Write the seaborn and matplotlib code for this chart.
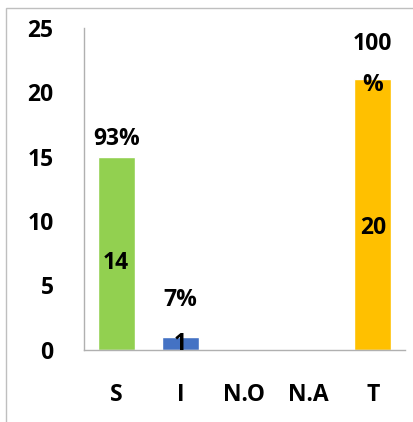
import matplotlib
matplotlib.use('Agg')
import matplotlib.pyplot as plt
import seaborn as sns
import pandas as pd
from matplotlib.patches import Rectangle

sns.set_style('white')
plt.rcParams['font.family'] = ['Open Sans', 'DejaVu Sans']
plt.rcParams['text.color'] = 'black'
plt.rcParams['xtick.color'] = 'black'
plt.rcParams['ytick.color'] = 'black'

# data
categories = ['S', 'I', 'N.O', 'N.A', 'T']
heights = [15, 1, 0, 0, 21]
count_labels = ['14', '1', '', '', '20']
pct_labels = ['93%', '7%', '', '', '100\n%']
colors = ['#92D050', '#4472C4', '#FFFFFF', '#FFFFFF', '#FFC000']

df = pd.DataFrame({'cat': categories, 'val': heights})

fig = plt.figure(figsize=(4.14, 4.22), dpi=100)
ax = fig.add_axes([0.203, 0.171, 0.775, 0.763])

sns.barplot(data=df, x='cat', y='val', hue='cat', palette=colors,
            legend=False, width=0.58, saturation=1, ax=ax)

fs = 16.5
ax.set_ylim(0, 25)
ax.set_yticks(range(0, 26, 5))
ax.set_xlabel('')
ax.set_ylabel('')
for lab in ax.get_xticklabels() + ax.get_yticklabels():
    lab.set_fontweight('bold')
    lab.set_fontsize(fs)
ax.tick_params(axis='y', length=0, pad=22)
ax.tick_params(axis='x', length=0, pad=24)

sns.despine(ax=ax, top=True, right=True)
for s in ['left', 'bottom']:
    ax.spines[s].set_color('#B0B0B0')
    ax.spines[s].set_linewidth(1)

# count labels inside the bars
for i, (h, t) in enumerate(zip(heights, count_labels)):
    if t:
        ax.text(i, h * 0.45, t, ha='center', va='center',
                fontsize=fs, fontweight='bold')

# percent labels above the bars (offsets in points)
pct_offsets = [4, 18, 0, 0, -13]
for i, (h, t) in enumerate(zip(heights, pct_labels)):
    if t:
        ax.annotate(t, (i, h), xytext=(0, pct_offsets[i]),
                    textcoords='offset points', ha='center', va='bottom',
                    fontsize=fs, fontweight='bold', linespacing=1.95)

# outer chart border
fig.patches.append(Rectangle((6 / 414, -0.1), 1.1, 1 - 8 / 422 + 0.1,
                             transform=fig.transFigure, fill=False,
                             edgecolor='#BFBFBF', linewidth=1))

fig.savefig('out.png', dpi=100)
